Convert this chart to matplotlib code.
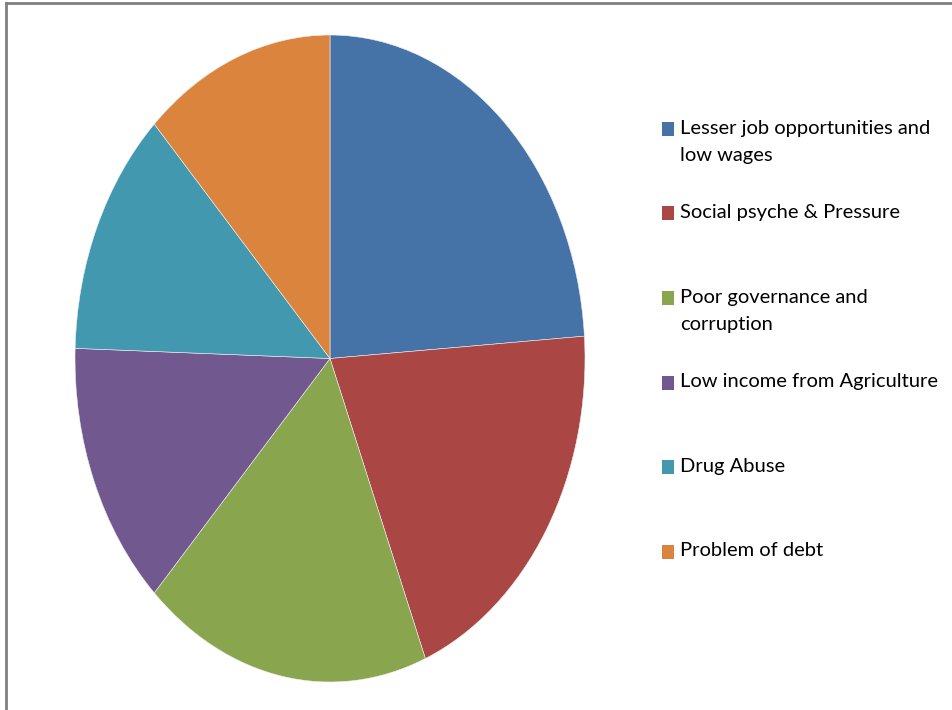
import matplotlib.pyplot as plt
from matplotlib.patches import Rectangle
from matplotlib.lines import Line2D

# Data (percent)
labels = ['Lesser job opportunities and\nlow wages',
          'Social psyche & Pressure',
          'Poor governance and\ncorruption',
          'Low income from Agriculture',
          'Drug Abuse',
          'Problem of debt']
shares = [23.9, 20.0, 18.2, 13.4, 12.4, 12.1]
colors = ['#4572A7', '#AA4643', '#89A54E', '#71588F', '#4198AF', '#DB843D']

W, H = 953, 710
fig = plt.figure(figsize=(W / 100, H / 100), dpi=100)

# pie is stretched vertically in the reference, so use an auto-aspect axes
ax = fig.add_axes([75 / W, 1 - 682 / H, 510 / W, 647 / H])
ax.pie(shares, colors=colors, startangle=90, counterclock=False,
       wedgeprops=dict(edgecolor='#f0f0f0', linewidth=0.4))
ax.set_aspect('auto')
ax.set_xlim(-1, 1)
ax.set_ylim(-1, 1)

# grey frame on top and left edges
fig.add_artist(Line2D([6 / W, 6 / W], [0, 1 - 3 / H], color='#808080', lw=2,
                      transform=fig.transFigure))
fig.add_artist(Line2D([6 / W, 1], [1 - 3 / H, 1 - 3 / H], color='#808080', lw=2,
                      transform=fig.transFigure))

# legend drawn by hand so the spacing follows the reference
y0, step = 129, 84.5
for i, (lab, c) in enumerate(zip(labels, colors)):
    y = y0 + i * step
    fig.add_artist(Rectangle((662 / W, 1 - (y + 7) / H), 12 / W, 14 / H,
                             facecolor=c, edgecolor='none',
                             transform=fig.transFigure))
    fig.text(680 / W, 1 - (y - 9) / H, lab, fontsize=14.5, family='Lato',
             color='black', va='top', ha='left', linespacing=1.7)

fig.savefig('out.png', dpi=100)
